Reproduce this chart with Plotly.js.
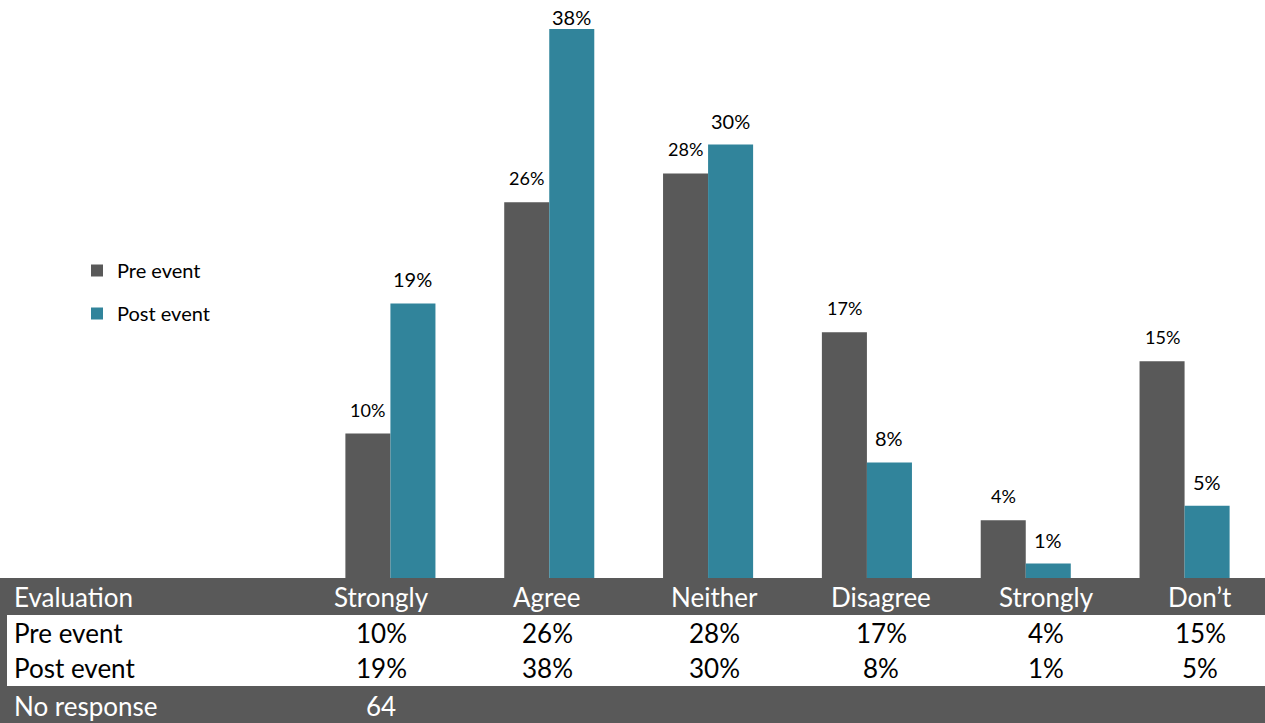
<!DOCTYPE html>
<html><head><meta charset="utf-8">
<script src="https://cdn.plot.ly/plotly-3.0.1.min.js"></script>
<style>html,body{margin:0;padding:0;background:#fff;}#chart{width:1265px;height:723px;}</style>
</head><body><div id="chart"></div>
<script>
// ---- data ----
const categories = ['Strongly', 'Agree', 'Neither', 'Disagree', 'Strongly', 'Don\u2019t'];
const preEvent = [10, 26, 28, 17, 4, 15];
const postEvent = [19, 38, 30, 8, 1, 5];
const seriesNames = ['Pre event', 'Post event'];
const rowHeader = 'Evaluation';
const noResponseLabel = 'No response';
const noResponseValue = '64';

// ---- layout constants ----
const W = 1265, H = 723, L = 311, R = 1, T = 0, B = 145;
const plotW = W - L - R, plotH = H - T - B;
const YMAX = 40;
const px2x = p => (p - L) / plotW;
const py2y = p => (T + plotH - p) / plotH;
const colCenters = [381, 547, 714, 881, 1046, 1200];
const GREY = '#595959', TEAL = '#31849B';
const FONT = 'Lato, "Open Sans", sans-serif';
const BARGAP = 0.433;
const idx = categories.map((c, i) => i);

const traces = [
  {type: 'bar', name: seriesNames[0], x: idx, y: preEvent, marker: {color: GREY},
   legendgroup: 'a', hoverinfo: 'none'},
  {type: 'bar', name: seriesNames[1], x: idx, y: postEvent, marker: {color: TEAL},
   legendgroup: 'b', hoverinfo: 'none'}
];

const shapes = [
  {type: 'rect', xref: 'paper', yref: 'paper', x0: px2x(0), x1: px2x(W), y0: py2y(615), y1: py2y(578), fillcolor: GREY, line: {width: 0}, layer: 'below'},
  {type: 'rect', xref: 'paper', yref: 'paper', x0: px2x(0), x1: px2x(7), y0: py2y(686), y1: py2y(615), fillcolor: GREY, line: {width: 0}, layer: 'below'},
  {type: 'rect', xref: 'paper', yref: 'paper', x0: px2x(0), x1: px2x(W), y0: py2y(H), y1: py2y(686), fillcolor: GREY, line: {width: 0}, layer: 'below'}
];

const ann = [];
// bar value labels
const half = (1 - BARGAP) / 4;
[[preEvent, -half, 18], [postEvent, half, 20]].forEach(([vals, dx, fs]) => {
  vals.forEach((v, i) => {
    const topPx = plotH * (1 - v / YMAX);
    ann.push({text: v + '%', xref: 'x', yref: 'y', x: i + dx, y: v, xanchor: 'center', yanchor: 'middle',
      yshift: Math.min(24, topPx - 17), showarrow: false, font: {family: FONT, size: fs, color: '#000'}});
  });
});
const tf = (c) => ({family: FONT, size: 26, color: c});
function addText(text, xp, yp, color, anchor) {
  ann.push({text: text, xref: 'paper', yref: 'paper', x: px2x(xp), y: py2y(yp),
    xanchor: anchor || 'center', yanchor: 'middle', showarrow: false, font: tf(color)});
}
addText(rowHeader, 12, 597, '#fff', 'left');
addText(seriesNames[0], 12, 633, '#000', 'left');
addText(seriesNames[1], 12, 668, '#000', 'left');
addText(noResponseLabel, 12, 706, '#fff', 'left');
categories.forEach((c, i) => {
  addText(c, colCenters[i], 597, '#fff');
  addText(preEvent[i] + '%', colCenters[i], 633, '#000');
  addText(postEvent[i] + '%', colCenters[i], 668, '#000');
});
addText(noResponseValue, colCenters[0], 706, '#fff');

const layout = {
  width: W, height: H, margin: {l: L, r: R, t: T, b: B, pad: 0},
  paper_bgcolor: '#fff', plot_bgcolor: 'rgba(0,0,0,0)',
  barmode: 'group', bargap: BARGAP, bargroupgap: 0,
  xaxis: {range: [-0.5, 5.5], showticklabels: false, showgrid: false, zeroline: false, showline: false, ticks: ''},
  yaxis: {range: [0, YMAX], showticklabels: false, showgrid: false, zeroline: false, showline: false, ticks: ''},
  showlegend: true,
  legend: {x: px2x(77), y: py2y(251), xanchor: 'left', yanchor: 'top', bgcolor: 'rgba(0,0,0,0)',
    font: {family: FONT, size: 20, color: '#000'}, traceorder: 'grouped', tracegroupgap: 14, itemwidth: 30},
  shapes: shapes, annotations: ann
};
Plotly.newPlot('chart', traces, layout, {displayModeBar: false, staticPlot: true});
</script></body></html>
